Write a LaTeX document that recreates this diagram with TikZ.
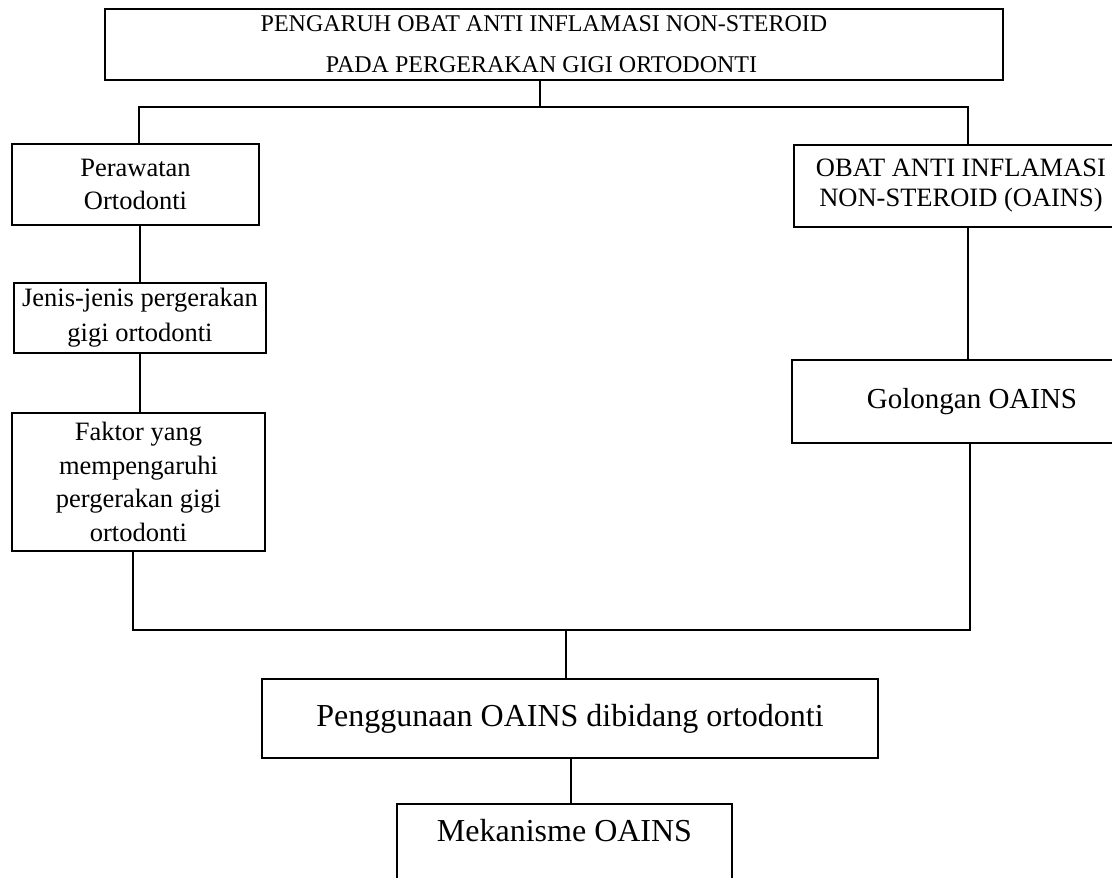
\documentclass[tikz,border=0pt]{standalone}
\usepackage{fontspec}
\setmainfont{Liberation Serif}

\begin{document}
\begin{tikzpicture}[
        x=1pt, y=-1pt,
        kotak/.style={rectangle, draw, line width=1.4pt, inner sep=0pt},
        garis/.style={line width=1.4pt},
    ]
\clip (0,0) rectangle (1112,878);

\node[kotak, align=center, minimum width=898, minimum height=71, font=\fontsize{24}{41}\selectfont] (Pengaruh) at (554,44.5) {PENGARUH OBAT ANTI INFLAMASI NON-STEROID\hspace*{20pt}\\[0pt]PADA PERGERAKAN GIGI ORTODONTI\hspace*{25pt}};

\node[kotak, align=center, minimum width=247, minimum height=81, font=\fontsize{26.5}{33}\selectfont] (Perawatan) at (135.5,184.5) {Perawatan\\Ortodonti};
\node[kotak, align=center, minimum width=252, minimum height=70, font=\fontsize{26.5}{35}\selectfont] (JenisGerak) at (140,318) {Jenis-jenis pergerakan\\gigi ortodonti};
\node[kotak, align=center, minimum width=253, minimum height=138, font=\fontsize{26.5}{33.5}\selectfont] (Faktor) at (138.5,482) {Faktor yang\\mempengaruhi\\pergerakan gigi\\ortodonti};

\node[kotak, align=center, minimum width=334, minimum height=82, font=\fontsize{26.5}{30}\selectfont] (Oains) at (961,186) {OBAT ANTI INFLAMASI\\NON-STEROID (OAINS)};
\node[kotak, align=center, minimum width=360, minimum height=83, font=\fontsize{29}{34}\selectfont] (Golongan) at (972,401.5) {Golongan OAINS};

\node[kotak, align=center, minimum width=616, minimum height=79, font=\fontsize{32}{37}\selectfont] (Penggunaan) at (570,718.5) {Penggunaan OAINS dibidang ortodonti};
\node[kotak, align=center, minimum width=335, minimum height=100, font=\fontsize{32}{37}\selectfont] (Mekanisme) at (564.5,854) {Mekanisme OAINS\\\strut};

\coordinate (AtasTengah) at (540,107);
\coordinate (AtasKiri) at (139,107);
\coordinate (AtasKanan) at (968,107);
\draw[garis] (Pengaruh.south -| AtasTengah) -- (AtasTengah);
\draw[garis] (Perawatan.north -| AtasKiri) -- (AtasKiri) -- (AtasKanan) -- (Oains.north -| AtasKanan);

\draw[garis] (Perawatan.south -| JenisGerak.north) -- (JenisGerak.north);
\draw[garis] (JenisGerak.south) -- (JenisGerak.south |- Faktor.north);
\draw[garis] (Oains.south -| AtasKanan) -- (Golongan.north -| AtasKanan);

\coordinate (BawahKiri) at (133,630);
\coordinate (BawahKanan) at (970,630);
\coordinate (BawahTengah) at (566,630);
\draw[garis] (Faktor.south -| BawahKiri) -- (BawahKiri) -- (BawahKanan) -- (Golongan.south -| BawahKanan);
\draw[garis] (BawahTengah) -- (Penggunaan.north -| BawahTengah);

\coordinate (Sambung) at (571,780);
\draw[garis] (Penggunaan.south -| Sambung) -- (Mekanisme.north -| Sambung);
\end{tikzpicture}
\end{document}
